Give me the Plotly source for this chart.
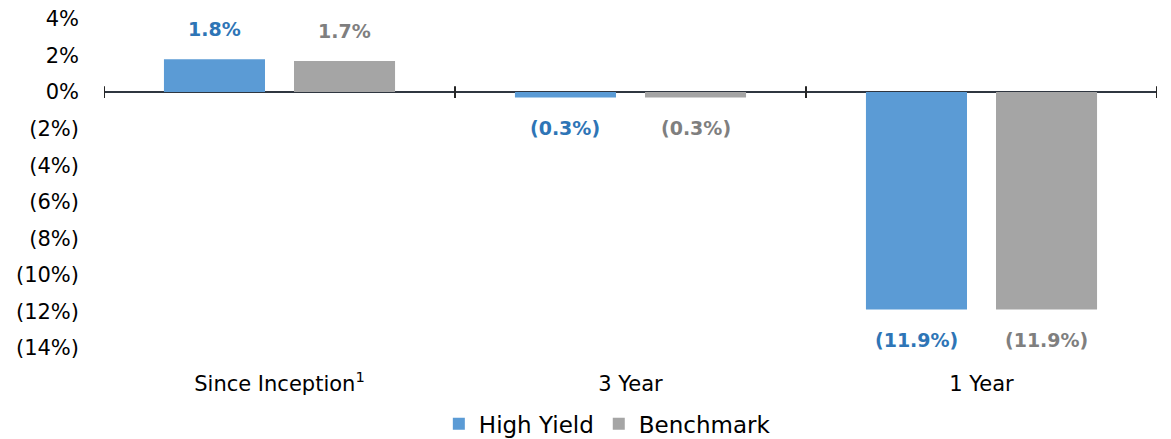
import plotly.graph_objects as go

categories = ["Since Inception<sup>1</sup>", "3 Year", "1 Year"]
high_yield = [1.8, -0.3, -11.9]
benchmark = [1.7, -0.3, -11.9]
series_names = ["High Yield", "Benchmark"]
bar_colors = ["#5B9BD5", "#A5A5A5"]
label_colors = ["#2E75B6", "#7F7F7F"]
tick_vals = [4, 2, 0, -2, -4, -6, -8, -10, -12, -14]
y_range = [-14, 4]


def fmt(v):
    return f"{v:.1f}%" if v >= 0 else f"({abs(v):.1f}%)"


def fmt_axis(v):
    return f"{v}%" if v >= 0 else f"({abs(v)}%)"


FONT = "DejaVu Sans, sans-serif"
bargap = 0.259
bargroupgap = 0.223

fig = go.Figure()
for name, vals, col in zip(series_names, [high_yield, benchmark], bar_colors):
    fig.add_trace(go.Bar(x=categories, y=vals, name=name,
                         marker=dict(color=col, line=dict(width=0))))

# data labels as annotations, centred over each bar
slot = (1 - bargap) / 2
annotations = []
for k, (vals, lc) in enumerate(zip([high_yield, benchmark], label_colors)):
    offset = (-0.5 + k) * slot
    for i, v in enumerate(vals):
        annotations.append(dict(
            x=i + offset, y=v, xref="x", yref="y", text=f"<b>{fmt(v)}</b>",
            showarrow=False, yshift=30 if v >= 0 else -30,
            font=dict(family=FONT, size=19, color=lc)))

# boundary tick marks crossing the zero line
zero_frac = (0 - y_range[0]) / (y_range[1] - y_range[0])
shapes = [dict(type="line", xref="x", yref="paper", x0=i - 0.5, x1=i - 0.5,
               y0=zero_frac - 0.018, y1=zero_frac + 0.018,
               line=dict(color="#262626", width=2))
          for i in range(len(categories) + 1)]

fig.update_layout(
    width=1163, height=431,
    margin=dict(l=96, r=14, t=11, b=91, autoexpand=False),
    paper_bgcolor="white", plot_bgcolor="white",
    barmode="group", bargap=bargap, bargroupgap=bargroupgap,
    font=dict(family=FONT, size=21, color="#000000"),
    showlegend=True,
    legend=dict(orientation="h", xref="paper", x=0.478, xanchor="center",
                yref="container", y=0.035, yanchor="middle",
                font=dict(family=FONT, size=23, color="#000000"), itemwidth=30),
    annotations=annotations,
    shapes=shapes,
    xaxis=dict(showline=False, showgrid=False, ticks="", ticklabelstandoff=21,
               tickfont=dict(family=FONT, size=21, color="#000000"), range=[-0.5, 2.5]),
    yaxis=dict(range=y_range, tickvals=tick_vals, ticktext=[fmt_axis(v) for v in tick_vals],
               showgrid=False, showline=False, zeroline=True, zerolinecolor="#2F3640",
               zerolinewidth=2, ticks="", ticklabelstandoff=24, ticklabeloverflow="allow",
               tickfont=dict(family=FONT, size=21, color="#000000")),
)

fig.write_html("out.html")
